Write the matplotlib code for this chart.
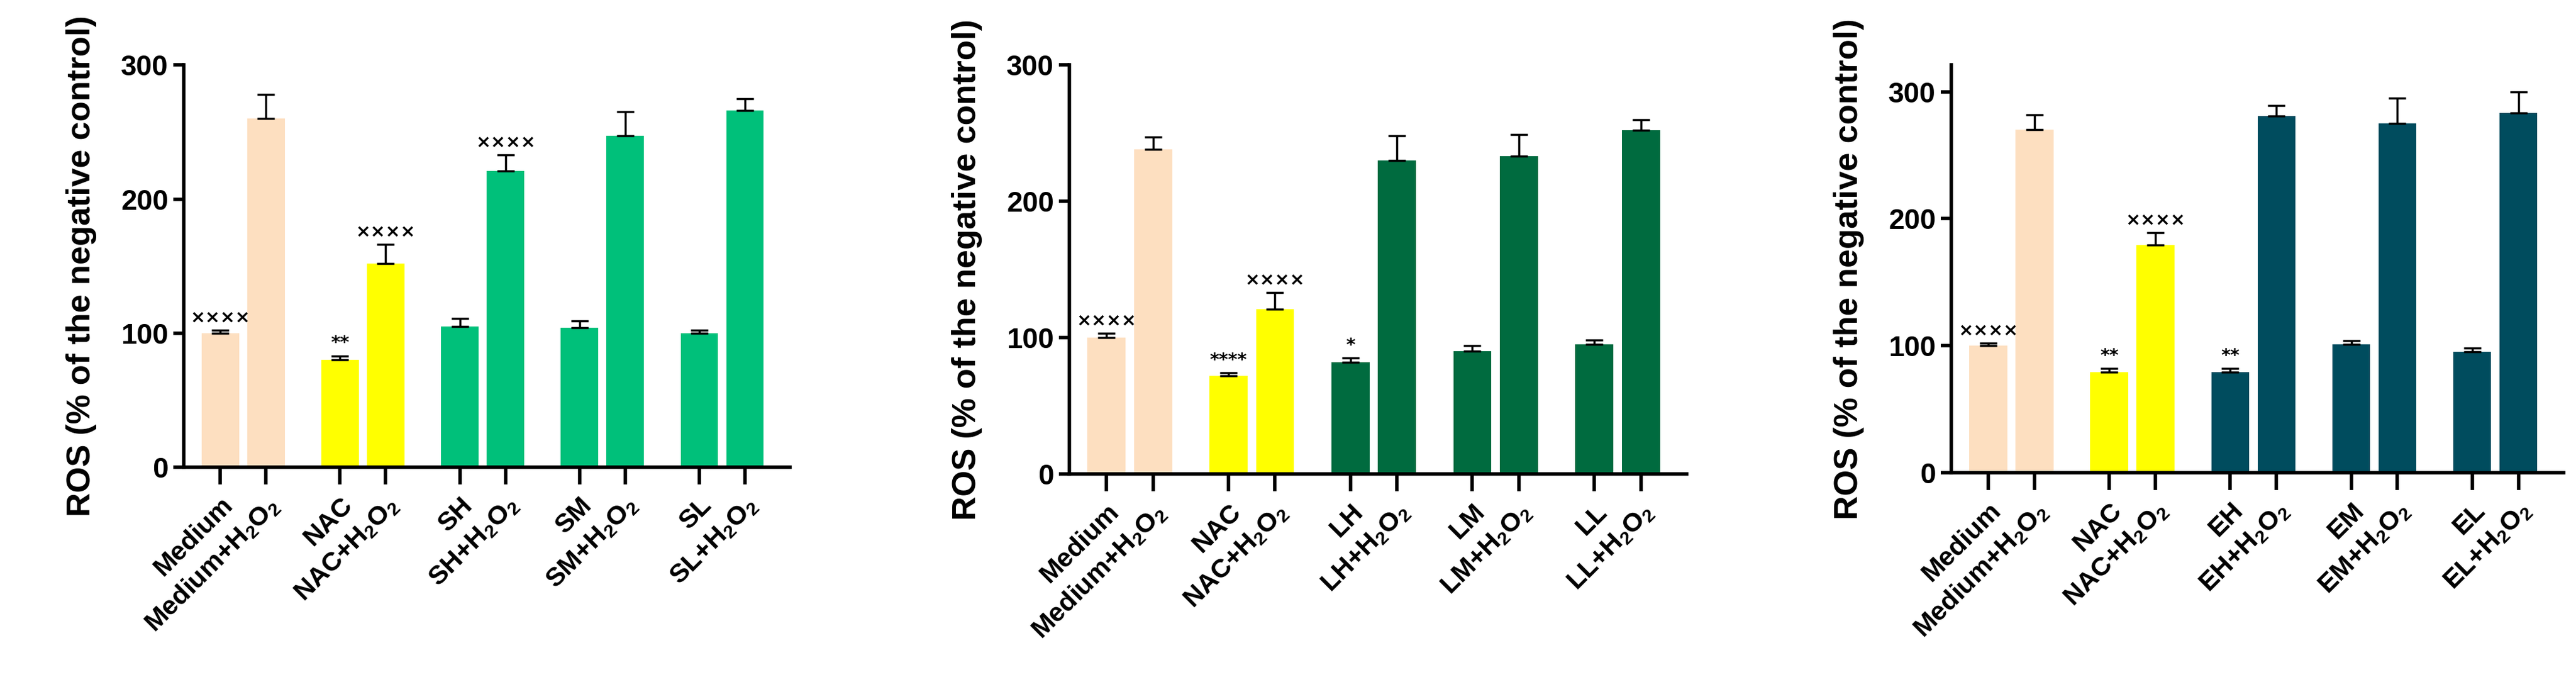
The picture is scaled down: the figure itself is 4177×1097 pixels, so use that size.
import matplotlib
matplotlib.use("Agg")
import matplotlib.pyplot as plt
import numpy as np

plt.rcParams['font.family'] = ['Liberation Sans', 'DejaVu Sans']
plt.rcParams['font.weight'] = 'bold'
plt.rcParams['mathtext.default'] = 'regular'

H = "+H$_2$O$_2$"
labels1 = ["Medium", "Medium" + H, "NAC", "NAC" + H, "SH", "SH" + H, "SM", "SM" + H, "SL", "SL" + H]
labels2 = ["Medium", "Medium" + H, "NAC", "NAC" + H, "LH", "LH" + H, "LM", "LM" + H, "LL", "LL" + H]
labels3 = ["Medium", "Medium" + H, "NAC", "NAC" + H, "EH", "EH" + H, "EM", "EM" + H, "EL", "EL" + H]

vals1 = [100, 260, 80, 152, 105, 221, 104, 247, 100, 266]
errs1 = [2, 18, 3, 14, 6, 12, 5, 18, 2, 9]
ann1 = ["××××", "", "**", "××××", "", "××××", "", "", "", ""]

vals2 = [100, 238, 72, 121, 82, 230, 90, 233, 95, 252]
errs2 = [3, 9, 2, 12, 3, 18, 4, 16, 3, 8]
ann2 = ["××××", "", "****", "××××", "*", "", "", "", "", ""]

vals3 = [100, 270, 79, 179, 79, 281, 101, 275, 95, 283]
errs3 = [2, 12, 3, 10, 3, 8, 3, 20, 3, 17]
ann3 = ["××××", "", "**", "××××", "**", "", "", "", "", ""]

peach, yellow = "#FDDFC0", "#FFFF00"
colors = [
    [peach, peach, yellow, yellow] + ["#00C07A"] * 6,
    [peach, peach, yellow, yellow] + ["#006B3F"] * 6,
    [peach, peach, yellow, yellow] + ["#004C5E"] * 6,
]
rects = [
    [0.0713, 0.310, 0.2353, 0.594],
    [0.4151, 0.300, 0.2396, 0.604],
    [0.7575, 0.302, 0.2377, 0.602],
]
ytops = [300, 300, 321]

fig = plt.figure(figsize=(41.77, 10.97), dpi=100)
x = np.array([g * 2.62 + k for g in range(5) for k in range(2)], dtype=float)

for i, (labs, v, e, a) in enumerate([(labels1, vals1, errs1, ann1),
                                      (labels2, vals2, errs2, ann2),
                                      (labels3, vals3, errs3, ann3)]):
    ax = fig.add_axes(rects[i])
    ax.bar(x, v, width=0.82, color=colors[i], zorder=2)
    ax.errorbar(x, v, yerr=[np.zeros(len(e)), e], fmt='none', ecolor='black',
                elinewidth=2.5, capsize=10, capthick=2.5, zorder=3)
    for xi, vi, ei, ai in zip(x, v, e, a):
        if ai:
            ax.text(xi, vi + ei + 3, ai, ha='center', va='bottom', fontsize=21,
                    fontweight='bold', family=['DejaVu Sans'])
    ax.set_xlim(x[0] - 0.8, x[-1] + 0.98)
    ax.set_ylim(0, ytops[i])
    ax.set_yticks([0, 100, 200, 300])
    ax.set_xticks(x)
    ax.set_xticklabels(labs, rotation=45, ha='right', rotation_mode='anchor', fontsize=31)
    ax.tick_params(axis='y', labelsize=33, width=4, length=12, pad=6)
    ax.tick_params(axis='x', width=4, length=20, pad=10)
    for s in ['top', 'right']:
        ax.spines[s].set_visible(False)
    for s in ['left', 'bottom']:
        ax.spines[s].set_linewidth(4)
    ax.set_ylabel("ROS (% of the negative control)", fontsize=39, fontweight='bold', labelpad=28)
    for t in ax.get_yticklabels() + ax.get_xticklabels():
        t.set_fontweight('bold')

fig.savefig("out.png", dpi=100)
